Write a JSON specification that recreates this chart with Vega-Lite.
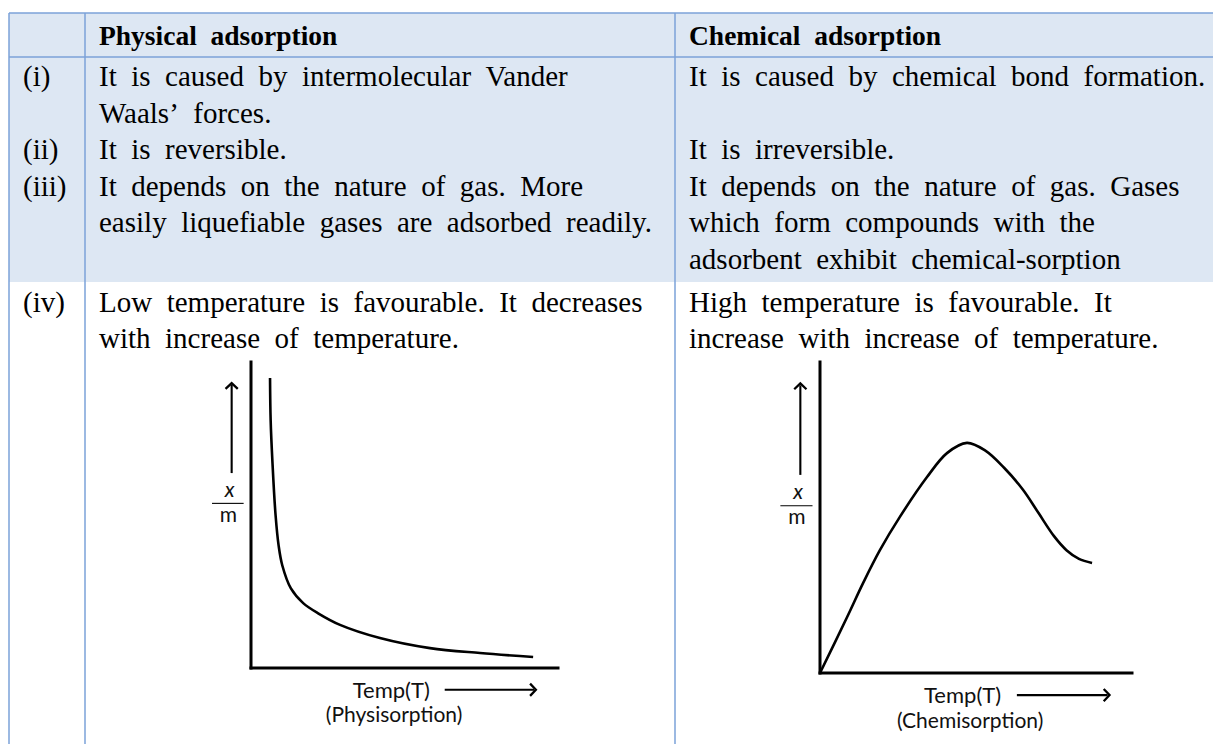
{
  "$schema": "https://vega.github.io/schema/vega-lite/v6.json",
  "width": 1213,
  "height": 744,
  "autosize": {"type": "none"},
  "padding": 0,
  "background": "white",
  "config": {"view": {"stroke": null}},
  "datasets": {
    "borders": [
      {"x0": 0, "x1": 0, "y0": 0, "y1": 3},
      {"x0": 1, "x1": 1, "y0": 0, "y1": 3},
      {"x0": 2, "x1": 2, "y0": 0, "y1": 3},
      {"x0": 0, "x1": 3, "y0": 0, "y1": 0},
      {"x0": 0, "x1": 3, "y0": 1, "y1": 1}
    ],
    "cells": [
      {"col": 1, "line": 0, "kind": "header", "text": "Physical\u00a0\u00a0adsorption"},
      {"col": 2, "line": 0, "kind": "header", "text": "Chemical\u00a0\u00a0adsorption"},
      {"col": 0, "line": 1, "kind": "body", "text": "(i)"},
      {"col": 1, "line": 1, "kind": "body", "text": "It\u00a0\u00a0is\u00a0\u00a0caused\u00a0\u00a0by\u00a0\u00a0intermolecular\u00a0\u00a0Vander"},
      {"col": 2, "line": 1, "kind": "body", "text": "It\u00a0\u00a0is\u00a0\u00a0caused\u00a0\u00a0by\u00a0\u00a0chemical\u00a0\u00a0bond\u00a0\u00a0formation."},
      {"col": 1, "line": 2, "kind": "body", "text": "Waals\u2019\u00a0\u00a0forces."},
      {"col": 0, "line": 3, "kind": "body", "text": "(ii)"},
      {"col": 1, "line": 3, "kind": "body", "text": "It\u00a0\u00a0is\u00a0\u00a0reversible."},
      {"col": 2, "line": 3, "kind": "body", "text": "It\u00a0\u00a0is\u00a0\u00a0irreversible."},
      {"col": 0, "line": 4, "kind": "body", "text": "(iii)"},
      {"col": 1, "line": 4, "kind": "body", "text": "It\u00a0\u00a0depends\u00a0\u00a0on\u00a0\u00a0the\u00a0\u00a0nature\u00a0\u00a0of\u00a0\u00a0gas.\u00a0\u00a0More"},
      {"col": 2, "line": 4, "kind": "body", "text": "It\u00a0\u00a0depends\u00a0\u00a0on\u00a0\u00a0the\u00a0\u00a0nature\u00a0\u00a0of\u00a0\u00a0gas.\u00a0\u00a0Gases"},
      {"col": 1, "line": 5, "kind": "body", "text": "easily\u00a0\u00a0liquefiable\u00a0\u00a0gases\u00a0\u00a0are\u00a0\u00a0adsorbed\u00a0\u00a0readily."},
      {"col": 2, "line": 5, "kind": "body", "text": "which\u00a0\u00a0form\u00a0\u00a0compounds\u00a0\u00a0with\u00a0\u00a0the"},
      {"col": 2, "line": 6, "kind": "body", "text": "adsorbent\u00a0\u00a0exhibit\u00a0\u00a0chemical-sorption"},
      {"col": 0, "line": 7, "kind": "body", "text": "(iv)"},
      {"col": 1, "line": 7, "kind": "body", "text": "Low\u00a0\u00a0temperature\u00a0\u00a0is\u00a0\u00a0favourable.\u00a0\u00a0It\u00a0\u00a0decreases"},
      {"col": 2, "line": 7, "kind": "body", "text": "High\u00a0\u00a0temperature\u00a0\u00a0is\u00a0\u00a0favourable.\u00a0\u00a0It"},
      {"col": 1, "line": 8, "kind": "body", "text": "with\u00a0\u00a0increase\u00a0\u00a0of\u00a0\u00a0temperature."},
      {"col": 2, "line": 8, "kind": "body", "text": "increase\u00a0\u00a0with\u00a0\u00a0increase\u00a0\u00a0of\u00a0\u00a0temperature."}
    ],
    "axes": [
      {"x0": 0, "x1": 0, "y0": 0, "y1": 10},
      {"x0": 0, "x1": 10, "y0": 0, "y1": 0}
    ],
    "arrows": [
      {"x0": -0.63, "x1": -0.63, "y0": 6.37, "y1": 9.25, "w": "shaft"},
      {"x0": 6.31, "x1": 9.22, "y0": -0.71, "y1": -0.71, "w": "shaft"},
      {"x0": -1.27, "x1": -0.24, "y0": 5.38, "y1": 5.38, "w": "bar"}
    ],
    "heads": [
      {"x": -0.63, "y": 9.31, "dir": "up"},
      {"x": 9.28, "y": -0.71, "dir": "right"}
    ],
    "labels": [
      {"chart": "both", "style": "italic", "size": "small", "x": -0.7, "y": 5.6, "text": "x"},
      {"chart": "both", "style": "normal", "size": "small", "x": -0.74, "y": 4.78, "text": "m"},
      {"chart": "both", "style": "normal", "size": "big", "x": 4.57, "y": -0.97, "text": "Temp(T)"},
      {"chart": "phys", "style": "normal", "size": "small", "x": 4.66, "y": -1.77, "text": "(Physisorption)"},
      {"chart": "chem", "style": "normal", "size": "small", "x": 4.81, "y": -1.78, "text": "(Chemisorption)"}
    ],
    "phys": [
      {"t": 0.62, "xm": 9.48},
      {"t": 0.64, "xm": 8.1},
      {"t": 0.7, "xm": 6.7},
      {"t": 0.8, "xm": 5.0},
      {"t": 0.9, "xm": 4.0},
      {"t": 1.02, "xm": 3.35},
      {"t": 1.3, "xm": 2.6},
      {"t": 1.7, "xm": 2.12},
      {"t": 2.2, "xm": 1.78},
      {"t": 2.9, "xm": 1.41},
      {"t": 4.2, "xm": 0.98},
      {"t": 5.83, "xm": 0.65},
      {"t": 7.46, "xm": 0.49},
      {"t": 9.19, "xm": 0.36}
    ],
    "chem": [
      {"t": 0, "xm": 0},
      {"t": 0.87, "xm": 1.8},
      {"t": 1.38, "xm": 2.89},
      {"t": 1.92, "xm": 3.95},
      {"t": 2.56, "xm": 5.02},
      {"t": 3.43, "xm": 6.3},
      {"t": 4.07, "xm": 7.07},
      {"t": 4.71, "xm": 7.4},
      {"t": 5.3, "xm": 7.15},
      {"t": 5.9, "xm": 6.6},
      {"t": 6.5, "xm": 5.9},
      {"t": 7.0, "xm": 5.15},
      {"t": 7.5, "xm": 4.4},
      {"t": 7.9, "xm": 3.95},
      {"t": 8.3, "xm": 3.67},
      {"t": 8.72, "xm": 3.54}
    ]
  },
  "layer": [
    {
      "layer": [
        {
          "data": {"values": [{"c0": 0, "c1": 3, "r0": 0, "r1": 2}]},
          "mark": {"type": "rect", "fill": "#dde7f3"},
          "encoding": {
            "x": {"field": "c0", "type": "quantitative", "axis": null, "scale": {"type": "linear", "domain": [0, 1, 2, 3], "range": [9, 85, 675, 1213], "nice": false, "zero": false}},
            "x2": {"field": "c1"},
            "y": {"field": "r0", "type": "quantitative", "axis": null, "scale": {"type": "linear", "domain": [0, 1, 2, 3], "range": [13, 57, 282, 744], "nice": false, "zero": false}},
            "y2": {"field": "r1"}
          }
        },
        {
          "data": {"name": "borders"},
          "mark": {"type": "rule", "color": "#7ba2d8", "strokeWidth": 1.5},
          "encoding": {
            "x": {"field": "x0", "type": "quantitative", "axis": null, "scale": {"type": "linear", "domain": [0, 1, 2, 3], "range": [9, 85, 675, 1213], "nice": false, "zero": false}},
            "x2": {"field": "x1"},
            "y": {"field": "y0", "type": "quantitative", "axis": null, "scale": {"type": "linear", "domain": [0, 1, 2, 3], "range": [13, 57, 282, 744], "nice": false, "zero": false}},
            "y2": {"field": "y1"}
          }
        }
      ]
    },
    {
      "data": {"name": "cells"},
      "encoding": {
        "x": {"field": "col", "type": "quantitative", "axis": null, "scale": {"type": "linear", "domain": [0, 1, 2, 3], "range": [9, 85, 675, 1213], "nice": false, "zero": false}},
        "y": {"field": "line", "type": "quantitative", "axis": null, "scale": {"type": "linear", "domain": [0, 1, 6, 7, 8], "range": [45, 86, 269, 312, 348], "nice": false, "zero": false}},
        "text": {"field": "text"}
      },
      "layer": [
        {
          "transform": [{"filter": "datum.kind === 'header'"}],
          "mark": {"type": "text", "align": "left", "baseline": "alphabetic", "dx": 14, "font": "Liberation Serif", "fontSize": 27.5, "fontWeight": "bold", "color": "#000000"}
        },
        {
          "transform": [{"filter": "datum.kind !== 'header'"}],
          "mark": {"type": "text", "align": "left", "baseline": "alphabetic", "dx": 14, "font": "Liberation Serif", "fontSize": 29, "color": "#000000"}
        }
      ]
    },
    {
      "layer": [
        {
          "data": {"name": "axes"},
          "mark": {"type": "rule", "color": "#000000", "strokeWidth": 3, "strokeCap": "square"},
          "encoding": {
            "x": {"field": "x0", "type": "quantitative", "axis": null, "scale": {"domain": [0, 10], "range": [251, 558], "nice": false, "zero": false}},
            "x2": {"field": "x1"},
            "y": {"field": "y0", "type": "quantitative", "axis": null, "scale": {"domain": [0, 10], "range": [668, 362], "nice": false, "zero": false}},
            "y2": {"field": "y1"}
          }
        },
        {
          "data": {"name": "phys"},
          "mark": {"type": "line", "interpolate": "catmull-rom", "color": "#000000", "strokeWidth": 2.6},
          "encoding": {
            "x": {"field": "t", "type": "quantitative", "axis": null, "scale": {"domain": [0, 10], "range": [251, 558], "nice": false, "zero": false}},
            "y": {"field": "xm", "type": "quantitative", "axis": null, "scale": {"domain": [0, 10], "range": [668, 362], "nice": false, "zero": false}}
          }
        },
        {
          "data": {"name": "arrows"},
          "mark": {"type": "rule", "color": "#000000"},
          "encoding": {
            "x": {"field": "x0", "type": "quantitative", "axis": null, "scale": {"domain": [0, 10], "range": [251, 558], "nice": false, "zero": false}},
            "x2": {"field": "x1"},
            "y": {"field": "y0", "type": "quantitative", "axis": null, "scale": {"domain": [0, 10], "range": [668, 362], "nice": false, "zero": false}},
            "y2": {"field": "y1"},
            "strokeWidth": {"field": "w", "type": "nominal", "legend": null, "scale": {"domain": ["shaft", "bar"], "range": [2.1, 1.1]}}
          }
        },
        {
          "data": {"name": "heads"},
          "mark": {"type": "point", "filled": false, "color": "#000000", "strokeWidth": 2.3, "size": 150, "opacity": 1, "strokeJoin": "miter"},
          "encoding": {
            "x": {"field": "x", "type": "quantitative", "axis": null, "scale": {"domain": [0, 10], "range": [251, 558], "nice": false, "zero": false}},
            "y": {"field": "y", "type": "quantitative", "axis": null, "scale": {"domain": [0, 10], "range": [668, 362], "nice": false, "zero": false}},
            "shape": {"field": "dir", "type": "nominal", "legend": null, "scale": {"domain": ["up", "right"], "range": ["M-1,0.95L0,0L1,0.95", "M-0.95,-1L0,0L-0.95,1"]}}
          }
        },
        {
          "data": {"name": "labels"},
          "transform": [{"filter": "datum.chart !== 'chem'"}],
          "encoding": {
            "x": {"field": "x", "type": "quantitative", "axis": null, "scale": {"domain": [0, 10], "range": [251, 558], "nice": false, "zero": false}},
            "y": {"field": "y", "type": "quantitative", "axis": null, "scale": {"domain": [0, 10], "range": [668, 362], "nice": false, "zero": false}},
            "text": {"field": "text"},
            "size": {"field": "size", "type": "nominal", "legend": null, "scale": {"domain": ["small", "big"], "range": [21, 22]}}
          },
          "layer": [
            {"transform": [{"filter": "datum.style === 'italic'"}], "mark": {"type": "text", "align": "center", "baseline": "alphabetic", "font": "Lato", "fontStyle": "italic", "color": "#111111"}},
            {"transform": [{"filter": "datum.style !== 'italic'"}], "mark": {"type": "text", "align": "center", "baseline": "alphabetic", "font": "Lato", "color": "#111111"}}
          ]
        }
      ]
    },
    {
      "layer": [
        {
          "data": {"name": "axes"},
          "mark": {"type": "rule", "color": "#000000", "strokeWidth": 3, "strokeCap": "square"},
          "encoding": {
            "x": {"field": "x0", "type": "quantitative", "axis": null, "scale": {"domain": [0, 10], "range": [820, 1132], "nice": false, "zero": false}},
            "x2": {"field": "x1"},
            "y": {"field": "y0", "type": "quantitative", "axis": null, "scale": {"domain": [0, 10], "range": [673, 362], "nice": false, "zero": false}},
            "y2": {"field": "y1"}
          }
        },
        {
          "data": {"name": "chem"},
          "mark": {"type": "line", "interpolate": "catmull-rom", "color": "#000000", "strokeWidth": 2.6},
          "encoding": {
            "x": {"field": "t", "type": "quantitative", "axis": null, "scale": {"domain": [0, 10], "range": [820, 1132], "nice": false, "zero": false}},
            "y": {"field": "xm", "type": "quantitative", "axis": null, "scale": {"domain": [0, 10], "range": [673, 362], "nice": false, "zero": false}}
          }
        },
        {
          "data": {"name": "arrows"},
          "mark": {"type": "rule", "color": "#000000"},
          "encoding": {
            "x": {"field": "x0", "type": "quantitative", "axis": null, "scale": {"domain": [0, 10], "range": [820, 1132], "nice": false, "zero": false}},
            "x2": {"field": "x1"},
            "y": {"field": "y0", "type": "quantitative", "axis": null, "scale": {"domain": [0, 10], "range": [673, 362], "nice": false, "zero": false}},
            "y2": {"field": "y1"},
            "strokeWidth": {"field": "w", "type": "nominal", "legend": null, "scale": {"domain": ["shaft", "bar"], "range": [2.1, 1.1]}}
          }
        },
        {
          "data": {"name": "heads"},
          "mark": {"type": "point", "filled": false, "color": "#000000", "strokeWidth": 2.3, "size": 150, "opacity": 1, "strokeJoin": "miter"},
          "encoding": {
            "x": {"field": "x", "type": "quantitative", "axis": null, "scale": {"domain": [0, 10], "range": [820, 1132], "nice": false, "zero": false}},
            "y": {"field": "y", "type": "quantitative", "axis": null, "scale": {"domain": [0, 10], "range": [673, 362], "nice": false, "zero": false}},
            "shape": {"field": "dir", "type": "nominal", "legend": null, "scale": {"domain": ["up", "right"], "range": ["M-1,0.95L0,0L1,0.95", "M-0.95,-1L0,0L-0.95,1"]}}
          }
        },
        {
          "data": {"name": "labels"},
          "transform": [{"filter": "datum.chart !== 'phys'"}],
          "encoding": {
            "x": {"field": "x", "type": "quantitative", "axis": null, "scale": {"domain": [0, 10], "range": [820, 1132], "nice": false, "zero": false}},
            "y": {"field": "y", "type": "quantitative", "axis": null, "scale": {"domain": [0, 10], "range": [673, 362], "nice": false, "zero": false}},
            "text": {"field": "text"},
            "size": {"field": "size", "type": "nominal", "legend": null, "scale": {"domain": ["small", "big"], "range": [21, 22]}}
          },
          "layer": [
            {"transform": [{"filter": "datum.style === 'italic'"}], "mark": {"type": "text", "align": "center", "baseline": "alphabetic", "font": "Lato", "fontStyle": "italic", "color": "#111111"}},
            {"transform": [{"filter": "datum.style !== 'italic'"}], "mark": {"type": "text", "align": "center", "baseline": "alphabetic", "font": "Lato", "color": "#111111"}}
          ]
        }
      ]
    }
  ],
  "resolve": {"scale": {"x": "independent", "y": "independent", "shape": "independent", "strokeWidth": "independent", "size": "independent"}}
}
